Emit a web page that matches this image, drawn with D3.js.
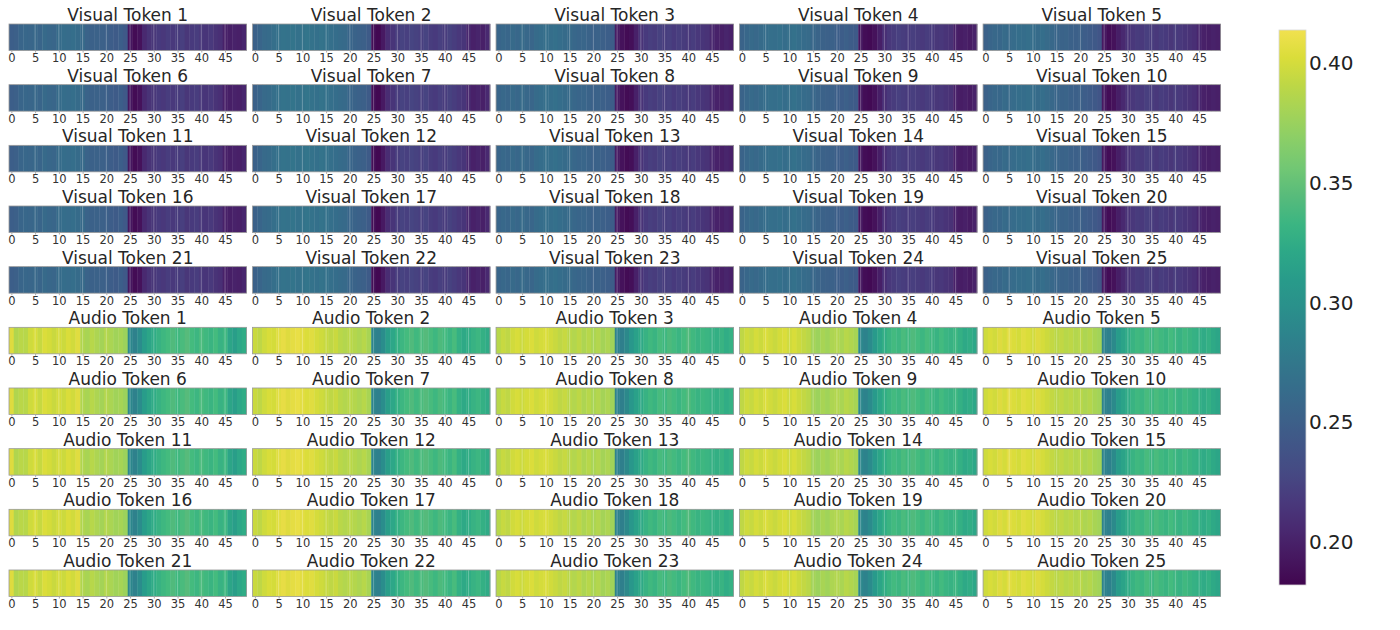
<!DOCTYPE html>
<html>
<head>
<meta charset="utf-8">
<script src="https://cdn.jsdelivr.net/npm/d3@7"></script>
<style>
  html, body { margin: 0; padding: 0; background: #fff; }
  svg { display: block; font-family: "DejaVu Sans", sans-serif; }
</style>
</head>
<body>
<svg id="chart" width="1400" height="630"></svg>
<script>
// ---- data ----
const positions = d3.range(50);
const tickValues = [0, 5, 10, 15, 20, 25, 30, 35, 40, 45];
const colorbarTicks = [0.20, 0.25, 0.30, 0.35, 0.40];
const colorDomain = [0.182, 0.414];

const visualTokens = d3.range(1, 26).map(i => "Visual Token " + i);
const audioTokens = d3.range(1, 26).map(i => "Audio Token " + i);

// per panel-column attention profiles (tokens in the same column look identical)
const visualCol1 = [0.249,0.250,0.256,0.258,0.257,0.259,0.256,0.260,0.258,0.257,0.262,0.264,0.263,0.265,0.262,0.260,0.254,0.252,0.253,0.251,0.250,0.248,0.246,0.249,0.244,
  0.192,0.186,0.190,0.205,0.212,0.215,0.218,0.216,0.220,0.217,0.219,0.221,0.215,0.218,0.220,0.216,0.214,0.217,0.212,0.210,0.200,0.198,0.201,0.199,0.203];
const visualCol2 = [0.252,0.256,0.260,0.262,0.266,0.268,0.270,0.269,0.271,0.268,0.270,0.272,0.269,0.267,0.270,0.268,0.266,0.264,0.262,0.260,0.256,0.254,0.252,0.250,0.246,
  0.188,0.184,0.194,0.208,0.214,0.220,0.224,0.222,0.226,0.223,0.221,0.225,0.220,0.218,0.222,0.219,0.223,0.220,0.216,0.214,0.204,0.200,0.202,0.199,0.205];
const visualCol3 = [0.256,0.259,0.257,0.260,0.258,0.261,0.259,0.257,0.262,0.264,0.266,0.265,0.267,0.264,0.262,0.260,0.258,0.256,0.257,0.254,0.252,0.253,0.250,0.249,0.247,
  0.196,0.190,0.186,0.189,0.200,0.212,0.218,0.221,0.219,0.223,0.220,0.222,0.218,0.221,0.219,0.217,0.220,0.216,0.214,0.212,0.204,0.201,0.199,0.202,0.200];
const visualCol4 = [0.254,0.258,0.260,0.259,0.262,0.264,0.266,0.265,0.267,0.264,0.266,0.268,0.265,0.263,0.261,0.258,0.255,0.253,0.251,0.252,0.249,0.248,0.250,0.247,0.245,
  0.192,0.187,0.185,0.190,0.198,0.210,0.216,0.219,0.222,0.220,0.218,0.221,0.219,0.217,0.220,0.218,0.215,0.216,0.213,0.211,0.200,0.197,0.199,0.196,0.201];
const visualCol5 = [0.252,0.256,0.259,0.258,0.261,0.260,0.263,0.265,0.264,0.266,0.264,0.262,0.265,0.261,0.259,0.256,0.254,0.255,0.252,0.250,0.251,0.248,0.246,0.244,0.240,
  0.194,0.187,0.190,0.198,0.205,0.212,0.216,0.219,0.217,0.221,0.219,0.216,0.220,0.218,0.215,0.219,0.217,0.214,0.212,0.210,0.203,0.200,0.198,0.201,0.199];

const audioCol1 = [0.405,0.385,0.390,0.388,0.398,0.402,0.395,0.404,0.400,0.396,0.401,0.397,0.403,0.399,0.406,0.385,0.382,0.388,0.384,0.380,0.386,0.383,0.378,0.381,0.376,
  0.290,0.285,0.295,0.310,0.318,0.325,0.330,0.335,0.338,0.342,0.336,0.340,0.345,0.338,0.334,0.340,0.336,0.332,0.338,0.330,0.335,0.318,0.312,0.320,0.325];
const audioCol2 = [0.396,0.392,0.398,0.402,0.400,0.406,0.409,0.405,0.408,0.410,0.407,0.404,0.406,0.401,0.398,0.395,0.392,0.396,0.389,0.386,0.390,0.387,0.384,0.388,0.382,
  0.288,0.283,0.296,0.312,0.320,0.328,0.334,0.338,0.342,0.336,0.340,0.344,0.339,0.335,0.341,0.337,0.333,0.339,0.328,0.322,0.326,0.330,0.334,0.328,0.324];
const audioCol3 = [0.388,0.395,0.392,0.399,0.402,0.397,0.400,0.404,0.398,0.401,0.403,0.399,0.396,0.392,0.395,0.389,0.386,0.391,0.384,0.388,0.383,0.386,0.380,0.384,0.378,
  0.286,0.282,0.292,0.306,0.315,0.322,0.330,0.336,0.332,0.339,0.335,0.341,0.337,0.333,0.338,0.342,0.336,0.331,0.335,0.333,0.329,0.327,0.331,0.326,0.329];
const audioCol4 = [0.392,0.398,0.395,0.401,0.397,0.403,0.399,0.396,0.400,0.404,0.398,0.402,0.397,0.394,0.390,0.380,0.376,0.382,0.378,0.384,0.386,0.383,0.388,0.385,0.381,
  0.290,0.286,0.294,0.308,0.318,0.326,0.332,0.337,0.334,0.340,0.336,0.342,0.338,0.334,0.339,0.335,0.331,0.337,0.333,0.330,0.334,0.328,0.322,0.326,0.320];
const audioCol5 = [0.398,0.402,0.399,0.405,0.401,0.407,0.404,0.400,0.406,0.403,0.399,0.405,0.401,0.397,0.394,0.390,0.393,0.388,0.391,0.386,0.389,0.384,0.387,0.382,0.379,
  0.287,0.283,0.293,0.310,0.317,0.324,0.331,0.336,0.333,0.339,0.334,0.340,0.336,0.332,0.338,0.334,0.330,0.336,0.332,0.329,0.327,0.324,0.328,0.322,0.318];

const visualProfiles = [visualCol1, visualCol2, visualCol3, visualCol4, visualCol5];
const audioProfiles = [audioCol1, audioCol2, audioCol3, audioCol4, audioCol5];

// build panel table
const panels = [];
visualTokens.forEach((t, i) => panels.push({ title: t, values: visualProfiles[i % 5], idx: i }));
audioTokens.forEach((t, i) => panels.push({ title: t, values: audioProfiles[i % 5], idx: 25 + i }));

// ---- layout ----
const svg = d3.select("#chart");
// slightly muted viridis, as in the reference image
function muted(t) {
  const c = d3.hsl(d3.interpolateViridis(t));
  c.s *= 0.87;
  c.l += 0.06 * t * t;
  return c.formatHex();
}
const color = d3.scaleSequential(muted).domain(colorDomain);

const colScale = d3.scaleBand().domain(d3.range(5)).range([9, 1220.5]).paddingInner(0.025);
const rowScale = d3.scaleBand().domain(d3.range(10)).range([24, 596.5]).paddingInner(0.563);
const cellX = d3.scaleBand().domain(positions).range([0, colScale.bandwidth()]);
const cellH = rowScale.bandwidth();

const g = svg.selectAll("g.panel").data(panels).join("g")
  .attr("class", "panel")
  .attr("transform", d => `translate(${colScale(d.idx % 5)},${rowScale(Math.floor(d.idx / 5))})`);

g.selectAll("rect.cell").data(d => d.values.map((v, j) => ({ v, j }))).join("rect")
  .attr("class", "cell")
  .attr("x", d => cellX(d.j))
  .attr("y", 0)
  .attr("width", cellX.bandwidth() + 0.4)
  .attr("height", cellH)
  .attr("fill", d => color(d.v));

// faint grid lines at ticks
g.selectAll("line.grid").data(tickValues.filter(t => t > 0)).join("line")
  .attr("class", "grid")
  .attr("x1", t => cellX(t) + cellX.bandwidth() / 2)
  .attr("x2", t => cellX(t) + cellX.bandwidth() / 2)
  .attr("y1", 0).attr("y2", cellH)
  .attr("stroke", "#ffffff").attr("stroke-opacity", 0.28).attr("stroke-width", 1);

// frame
g.append("rect")
  .attr("x", 0).attr("y", 0)
  .attr("width", colScale.bandwidth()).attr("height", cellH)
  .attr("fill", "none").attr("stroke", "#9a9a9a").attr("stroke-width", 0.8);

// x axis
g.each(function () {
  const axis = d3.axisBottom(d3.scalePoint().domain(positions).range([cellX.bandwidth() / 2, colScale.bandwidth() - cellX.bandwidth() / 2]))
    .tickValues(tickValues).tickSize(2).tickPadding(1.5);
  const ax = d3.select(this).append("g").attr("transform", `translate(0,${cellH})`).call(axis);
  ax.select(".domain").remove();
  ax.selectAll(".tick line").attr("stroke", "#aaa");
  ax.selectAll("text").attr("font-size", "11.5px").attr("fill", "#333").attr("font-family", "DejaVu Sans, sans-serif");
});

// titles
g.append("text")
  .attr("x", colScale.bandwidth() / 2)
  .attr("y", -3)
  .attr("text-anchor", "middle")
  .attr("font-size", "17px")
  .attr("fill", "#262626")
  .text(d => d.title);

// ---- colorbar ----
const cbX = 1279, cbW = 27;
const cbScale = d3.scaleLinear().domain(colorDomain).range([585, 30]);
const defs = svg.append("defs");
const grad = defs.append("linearGradient").attr("id", "cbgrad")
  .attr("x1", 0).attr("y1", 1).attr("x2", 0).attr("y2", 0);
grad.selectAll("stop").data(d3.range(0, 1.0001, 0.05)).join("stop")
  .attr("offset", t => t)
  .attr("stop-color", t => muted(t));
svg.append("rect")
  .attr("x", cbX).attr("y", cbScale(colorDomain[1]))
  .attr("width", cbW).attr("height", cbScale(colorDomain[0]) - cbScale(colorDomain[1]))
  .attr("fill", "url(#cbgrad)")
  .attr("stroke", "#d8d8d8").attr("stroke-width", 0.8);

const cbAxis = d3.axisRight(cbScale).tickValues(colorbarTicks).tickFormat(d3.format(".2f")).tickSize(0).tickPadding(3);
const cbg = svg.append("g").attr("transform", `translate(${cbX + cbW},0)`).call(cbAxis);
cbg.select(".domain").remove();
cbg.selectAll("text").attr("font-size", "20px").attr("fill", "#222").attr("font-family", "DejaVu Sans, sans-serif");
</script>
</body>
</html>
